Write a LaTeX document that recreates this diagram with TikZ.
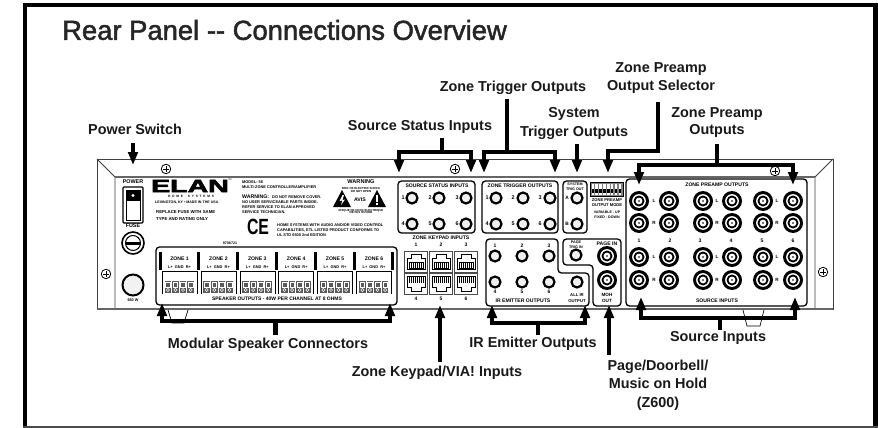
\documentclass[tikz,border=0pt]{standalone}
\usepackage{fontspec}
\setmainfont{Liberation Sans}
\newfontfamily\titlefont[FakeBold=1.8]{Liberation Sans}
\newfontfamily\heavyfont[FakeBold=3]{Liberation Sans Bold}
\usetikzlibrary{arrows.meta}
\newcommand{\fs}[1]{\fontsize{#1}{#1}\selectfont}
\tikzset{
  x=1pt,y=-1pt,
  callout/.style={font=\bfseries\fs{14.4},inner sep=0pt,align=center,text=black!90},
  paneltext/.style={font=\bfseries\fs{5.1},inner sep=0pt,align=center},
  smalltext/.style={font=\bfseries\fs{3.9},inner sep=0pt,align=left,anchor=west},
  bar/.style={line width=4.8pt,draw=black,line join=miter},
  pointer/.style={line width=4.8pt,draw=black,line join=miter,-{Triangle[length=13pt,width=9.5pt]}},
  twopointer/.style={line width=4.8pt,draw=black,{Triangle[length=13pt,width=9.5pt]}-{Triangle[length=13pt,width=9.5pt]},line join=miter},
  chassis/.style={draw=black!75,line width=0.9pt},
  groupbox/.style={draw=black,line width=1.3pt,rounded corners=3.5pt},
}
\newcommand{\rca}[3]{\node[circle,fill=black,minimum size=20pt,inner sep=0pt] (#1) at (#2,#3) {};
  \fill[white] (#1) circle[radius=6.9pt];\fill[black] (#1) circle[radius=5.5pt];\fill[white] (#1) circle[radius=3.4pt];\fill[black!70] (#1) circle[radius=1.2pt];}
\newcommand{\jack}[3]{\node[circle,draw=black,line width=2.2pt,fill=black!6,minimum size=11pt,inner sep=0pt] (#1) at (#2,#3) {};}
\newcommand{\screw}[3]{\node[circle,draw=black,line width=0.8pt,fill=white,minimum size=9.5pt,inner sep=0pt] (#1) at (#2,#3) {};
  \draw[line width=1pt] (#2-2.6,#3) -- (#2+2.6,#3) (#2,#3-2.6) -- (#2,#3+2.6);}
\begin{document}
\begin{tikzpicture}
\useasboundingbox (0,0) rectangle (878,428);
\fill[white] (0,0) rectangle (878,428);
% frame
\fill[black] (22.5,3) rectangle (873,7);
\fill[black] (22.5,3) rectangle (27,428);
\fill[black] (873,3) rectangle (878,428);
\fill[black!70] (22.5,426) rectangle (878,427.6);
% title
\node[anchor=west,inner sep=0pt,font=\titlefont\fs{27.4},text=black!85] (title) at (62,30) {Rear Panel -- Connections Overview};

% chassis
\draw[chassis] (97,159) -- (833,159) -- (833,309) -- (97,309) -- cycle;
\draw[chassis] (97,159) -- (115,177) -- (115,309);
\draw[chassis] (833,159) -- (815,177) -- (815,309);
\draw[draw=black!60,line width=1.3pt] (115,177) -- (815,177);
\draw[draw=black!60,line width=1.5pt] (97,309) -- (833,309);
% feet
\draw[line width=0.7pt] (168,310) -- (172,323) -- (184,323) -- (188,310);
\draw[line width=0.7pt] (743,310) -- (747,326) -- (760,326) -- (764,310);
% screws
\screw{s1}{166}{169}\screw{s2}{106}{274}\screw{s3}{455}{169}\screw{s4}{775}{171}\screw{s5}{823}{272}

% power section
\node[paneltext,font=\bfseries\fs{5.4}] (pwr) at (133,182) {POWER};
\node[draw=black,line width=1.2pt,rounded corners=1pt,minimum width=20pt,minimum height=36pt,inner sep=0pt] (sw) at (133,205) {};
\draw[line width=0.8pt] (126,190) rectangle (140,220);
\fill[black] (126,190) rectangle (140,201);
\fill[white] (133,195.5) circle[radius=1.6pt];
\node[paneltext,font=\bfseries\fs{5.4}] (fusetxt) at (133,226) {FUSE};
\node[circle,draw=black,line width=1.6pt,minimum size=22pt,inner sep=0pt] (fuse) at (133,243) {};
\draw[line width=1pt] (133,243) circle[radius=7.5pt];
\fill[black] (125.5,241.5) rectangle (140.5,244.5);
\node[circle,draw=black,line width=2pt,fill=black!5,minimum size=21pt,inner sep=0pt] (cord) at (133,285) {};
\node[paneltext,font=\bfseries\fs{3.8}] (watt) at (133,300) {660 W};

% logo block
\node[inner sep=0pt,text=black,font=\heavyfont\fs{19},xscale=1.5,yscale=0.95] (logo) at (190,186) {ELAN};
\node[inner sep=0pt,font=\fs{2.4}] (tm) at (230,180) {TM};
\node[paneltext,font=\bfseries\fs{3.2}] (home) at (191,196) {H\ \ O\ \ M\ \ E\quad\ \ S\ \ Y\ \ S\ \ T\ \ E\ \ M\ \ S};
\node[smalltext,font=\bfseries\fs{3.6}] (lex) at (155,203) {LEXINGTON, KY • MADE IN THE USA};
\node[smalltext,font=\bfseries\fs{4.3}] (rep1) at (156,212) {REPLACE FUSE WITH SAME};
\node[smalltext,font=\bfseries\fs{4.3}] (rep2) at (156,219) {TYPE AND RATING ONLY};

\node[smalltext] (m1) at (242,182) {MODEL: 56};
\node[smalltext] (m2) at (242,187) {MULTI-ZONE CONTROLLER/AMPLIFIER};
\node[smalltext,font=\bfseries\fs{5.2}] (m3a) at (242,196.5) {WARNING:};
\node[smalltext] (m3b) at (272,197) {DO NOT REMOVE COVER.};
\node[smalltext] (m4) at (242,202) {NO USER SERVICEABLE PARTS INSIDE.};
\node[smalltext] (m5) at (242,207) {REFER SERVICE TO ELAN-APPROVED};
\node[smalltext] (m6) at (242,212) {SERVICE TECHNICIAN.};
\node[inner sep=0pt,font=\bfseries\fs{22},xscale=0.72] (ce) at (258,227) {CE};
\node[smalltext] (h1) at (277,225) {HOME SYSTEMS WITH AUDIO AND/OR VIDEO CONTROL};
\node[smalltext] (h2) at (277,230) {CAPABILITIES, ETL LISTED PRODUCT CONFORMS TO};
\node[smalltext] (h3) at (277,235) {UL STD 6500 2nd EDITION};

\node[paneltext,font=\bfseries\fs{5.6}] (warn) at (361,182) {WARNING};
\node[paneltext,font=\bfseries\fs{2.9}] (w2) at (361,190) {RISK OF ELECTRIC SHOCK\\DO NOT OPEN};
\fill[black] (342,190) -- (351,207) -- (333,207) -- cycle;
\fill[black] (377,190) -- (386,207) -- (368,207) -- cycle;
\fill[white] (342.5,195) -- (339.5,201) -- (342.3,200.5) -- (341,205) -- (345,199.5) -- (342.5,200) -- (344,195) -- cycle;
\fill[white] (376.3,195) rectangle (377.7,202);\fill[white] (376.3,203) rectangle (377.7,205);
\node[paneltext,font=\bfseries\fs{5.2}] (avis) at (360,200) {AVIS};
\node[paneltext,font=\bfseries\fs{2.9}] (w3) at (361,211.5) {RISQUE DE CHOC ELECTRIQUE\\NE PAS OUVRIR};
\node[paneltext,font=\bfseries\fs{3.6}] (serial) at (230,243) {9708721};

% speaker group
\draw[groupbox] (156,247) rectangle (397,305);
\node[paneltext,font=\bfseries\fs{5}] (spk) at (277,299) {SPEAKER OUTPUTS - 40W PER CHANNEL AT 8 OHMS};
\foreach \n in {0,...,5}{
  \pgfmathsetmacro{\ox}{160+38.9*\n}
  \fill[black] (\ox-1.5,252) rectangle (\ox+1.5,270);
  \pgfmathsetmacro{\tx}{\ox+19.5}
  \pgfmathtruncatemacro{\zn}{\n+1}
  \node[paneltext] (zone\zn) at (\tx,259) {ZONE \zn};
  \node[paneltext,font=\bfseries\fs{3.9}] (zl\zn) at (\tx,267) {L+\ \ GND\ \ R+};
  \draw[line width=0.6pt] (\ox+2,293.5) -- (\ox+2,271.5) -- (\ox+37,271.5) -- (\ox+37,293.5);
  \foreach \k in {0,...,3}{
    \pgfmathsetmacro{\kx}{\ox+4.5+7.6*\k}
    \fill[black!65] (\kx,281) rectangle (\kx+6.6,293);
    \draw[white,line width=0.5pt] (\kx+1,282) rectangle (\kx+5.6,287);
    \draw[white,line width=0.5pt] (\kx+3.3,290) circle[radius=1.6pt];
  }
}
\fill[black] (390.5,252) rectangle (393.5,270);

% source status
\draw[groupbox] (398,181) rectangle (475,233);
\node[paneltext] (sst) at (437,185.5) {SOURCE STATUS INPUTS};
\foreach \n/\jx/\jy/\lx in {1/412/198/403,2/439/198/430,3/466/198/457,4/412/224/403,5/439/224/430,6/466/224/457}{
  \jack{ss\n}{\jx}{\jy}
  \node[paneltext,font=\bfseries\fs{5.4}] (ssl\n) at (\lx,\jy) {\n};
}
% zone trigger
\draw[groupbox] (482,181) rectangle (558,233);
\node[paneltext] (ztt) at (520,185.5) {ZONE TRIGGER OUTPUTS};
\foreach \n/\jx/\jy/\lx in {1/496/198/487,2/523/198/513,3/550/198/540,4/496/224/487,5/523/224/513,6/550/224/540}{
  \jack{zt\n}{\jx}{\jy}
  \node[paneltext,font=\bfseries\fs{5.4}] (ztl\n) at (\lx,\jy) {\n};
}
% system trigger
\draw[groupbox] (563,181) rectangle (587,233);
\node[paneltext,font=\bfseries\fs{3.7}] (syt) at (575,186.5) {SYSTEM\\[0.9pt]TRIG OUT};
\jack{sya}{577}{198}\jack{syb}{577}{224}
\node[paneltext,font=\bfseries\fs{4.8}] (syal) at (567,198) {A};
\node[paneltext,font=\bfseries\fs{4.8}] (sybl) at (567,224) {B};
% selector
\draw[line width=0.6pt,fill=black!50] (590,182) rectangle (623,196);
\foreach \k in {0,...,7}{
  \pgfmathsetmacro{\dx}{591.5+3.9*\k}
  \fill[white] (\dx,183.5) rectangle (\dx+2.4,194.5);
  \fill[black] (\dx,189) rectangle (\dx+2.4,193);
}
\node[paneltext,font=\bfseries\fs{4.1}] (sel1) at (607,202.8) {ZONE PREAMP\\[1.3pt]OUTPUT MODE};
\node[paneltext,font=\bfseries\fs{3.6}] (sel2) at (607,214.5) {VARIABLE - UP\\[1.3pt]FIXED - DOWN};
% keypad
\node[paneltext] (kp) at (441,238) {ZONE KEYPAD INPUTS};
\foreach \n/\kx/\ky/\ly/\sg in {1/416/261.5/245/1,2/441/261.5/245/1,3/466/261.5/245/1,4/416/283.5/299/-1,5/441/283.5/299/-1,6/466/283.5/299/-1}{
  \node[draw=black!70,line width=0.9pt,minimum width=23.5pt,minimum height=21pt,inner sep=0pt] (kj\n) at (\kx,\ky) {};
  \draw[line width=0.6pt] (\kx-9,\ky+\sg*7.5) -- (\kx-9,\ky-\sg*3.5) -- (\kx-5,\ky-\sg*3.5) -- (\kx-5,\ky-\sg*7.5) -- (\kx+5,\ky-\sg*7.5) -- (\kx+5,\ky-\sg*3.5) -- (\kx+9,\ky-\sg*3.5) -- (\kx+9,\ky+\sg*7.5) -- cycle;
  \fill[black] (\kx-7.5,\ky+\sg*0.5) rectangle (\kx+7.5,\ky+\sg*7);
  \foreach \p in {-6,-4,-2,0,2,4,6}{\draw[white,line width=0.5pt] (\kx+\p,\ky+\sg*1) -- (\kx+\p,\ky+\sg*6.5);}
  \node[paneltext,font=\bfseries\fs{5}] (kl\n) at (\kx,\ly) {\n};
}
% IR
\draw[groupbox] (486,239) -- (558,239) -- (558,273) -- (589,273) -- (589,306) -- (486,306) -- cycle;
\foreach \n/\jx/\jy/\ly in {1/495/256/246,2/522/256/246,3/549/256/246,4/495/282/292,5/522/282/292,6/549/282/292}{
  \jack{ir\n}{\jx}{\jy}
  \node[paneltext,font=\bfseries\fs{5}] (irl\n) at (\jx,\ly) {\n};
}
\jack{irall}{577}{282}
\node[paneltext,font=\bfseries\fs{4.2}] (iral) at (577,298) {ALL IR\\[1.3pt]OUTPUT};
\node[paneltext] (irt) at (523,301) {IR EMITTER OUTPUTS};
% page
\draw[groupbox] (563,239) -- (621,239) -- (621,306) -- (593,306) -- (593,265) -- (563,265) -- cycle;
\node[paneltext,font=\bfseries\fs{3.7}] (pgt) at (576,244.5) {PAGE\\[1pt]TRIG IN};
\jack{pgj}{576}{255}
\node[paneltext] (pin) at (607,244) {PAGE IN};
\rca{pr1}{607}{256}\rca{pr2}{607}{280}
\node[paneltext,font=\bfseries\fs{4.6}] (moh) at (607,298) {MOH\\[1.3pt]OUT};
% preamp / source
\draw[groupbox] (626,179) rectangle (807,306);
\node[paneltext] (pt) at (717,185) {ZONE PREAMP OUTPUTS};
\node[paneltext] (st) at (717,301) {SOURCE INPUTS};
\foreach \c/\cx in {1/639,2/669,3/703,4/732,5/763,6/793}{
  \foreach \r/\ry in {1/201,2/223,3/257,4/280}{
    \rca{r\c\r}{\cx}{\ry}
  }
}
\foreach \lx in {654,717,777}{
  \foreach \ly/\lt in {201/L,223/R,257/L,280/R}{
    \node[paneltext,font=\bfseries\fs{4.6}] at (\lx,\ly) {\lt};
  }
}
\foreach \n/\nx in {1/639,2/670,3/700,4/731,5/762,6/793}{
  \node[paneltext] (pn\n) at (\nx,241) {\n};
}

% callout labels
\node[callout] (lpower) at (135,129) {Power Switch};
\node[callout] (lsource) at (420,127) {Source Status Inputs};
\node[callout] (lzt) at (513,88) {Zone Trigger Outputs};
\node[callout] (lsel) at (661,78) {Zone Preamp\\[3pt]Output Selector};
\node[callout] (lsys) at (574,123.5) {System\\[4pt]Trigger Outputs};
\node[callout] (lpre) at (717,122.5) {Zone Preamp\\[3pt]Outputs};
\node[callout] (lmod) at (268,345) {Modular Speaker Connectors};
\node[callout] (lkey) at (437,373) {Zone Keypad/VIA! Inputs};
\node[callout] (lir) at (533,344) {IR Emitter Outputs};
\node[callout] (lsi) at (718,338) {Source Inputs};
\node[callout] (lpage) at (658,385) {Page/Doorbell/\\[4pt]Music on Hold\\[4pt](Z600)};

% connector coordinates
\coordinate (a1) at (133,143); \coordinate (a1t) at (133,165);
\coordinate (b0) at (442,138); \coordinate (b1) at (442,152); \coordinate (b2) at (399,173); \coordinate (b3) at (471,173); \coordinate (b4) at (399,152); \coordinate (b5) at (471,152);
\coordinate (c0) at (507,99); \coordinate (c1) at (507,152); \coordinate (c2) at (484,173); \coordinate (c3) at (555,173); \coordinate (c4) at (484,152); \coordinate (c5) at (555,152);
\coordinate (d0) at (577,144); \coordinate (d1) at (577,173);
\coordinate (e0) at (658,102); \coordinate (e1) at (658,151); \coordinate (e2) at (608,151); \coordinate (e3) at (608,173);
\coordinate (f0) at (717,144); \coordinate (f1) at (717,165); \coordinate (f2) at (639,165); \coordinate (f3) at (793,165); \coordinate (f4) at (639,185); \coordinate (f5) at (793,185);
\coordinate (g0) at (275.5,335); \coordinate (g1) at (275.5,321); \coordinate (g2) at (162,303); \coordinate (g3) at (390,303); \coordinate (g4) at (162,321); \coordinate (g5) at (390,321);
\coordinate (h0) at (440,362); \coordinate (h1) at (440,305);
\coordinate (i0) at (538,335); \coordinate (i1) at (538,323); \coordinate (i2) at (492,305); \coordinate (i3) at (585,305); \coordinate (i4) at (492,323); \coordinate (i5) at (585,323);
\coordinate (j0) at (609,355); \coordinate (j1) at (609,305);
\coordinate (k0) at (720,330); \coordinate (k1) at (720,318); \coordinate (k2) at (641,297); \coordinate (k3) at (795,297); \coordinate (k4) at (641,318); \coordinate (k5) at (795,318);

% connectors
\draw[pointer] (a1) -- (a1t);
\draw[bar] (b0) -- (b1);
\draw[twopointer] (b2) -- (b4) -- (b5) -- (b3);
\draw[bar] (c0) -- (c1);
\draw[twopointer] (c2) -- (c4) -- (c5) -- (c3);
\draw[pointer] (d0) -- (d1);
\draw[pointer] (e0) -- (e1) -- (e2) -- (e3);
\draw[bar] (f0) -- (f1);
\draw[twopointer] (f4) -- (f2) -- (f3) -- (f5);
\draw[bar] (g0) -- (g1);
\draw[twopointer] (g2) -- (g4) -- (g5) -- (g3);
\draw[pointer] (h0) -- (h1);
\draw[bar] (i0) -- (i1);
\draw[twopointer] (i2) -- (i4) -- (i5) -- (i3);
\draw[pointer] (j0) -- (j1);
\draw[bar] (k0) -- (k1);
\draw[twopointer] (k2) -- (k4) -- (k5) -- (k3);
\end{tikzpicture}
\end{document}
